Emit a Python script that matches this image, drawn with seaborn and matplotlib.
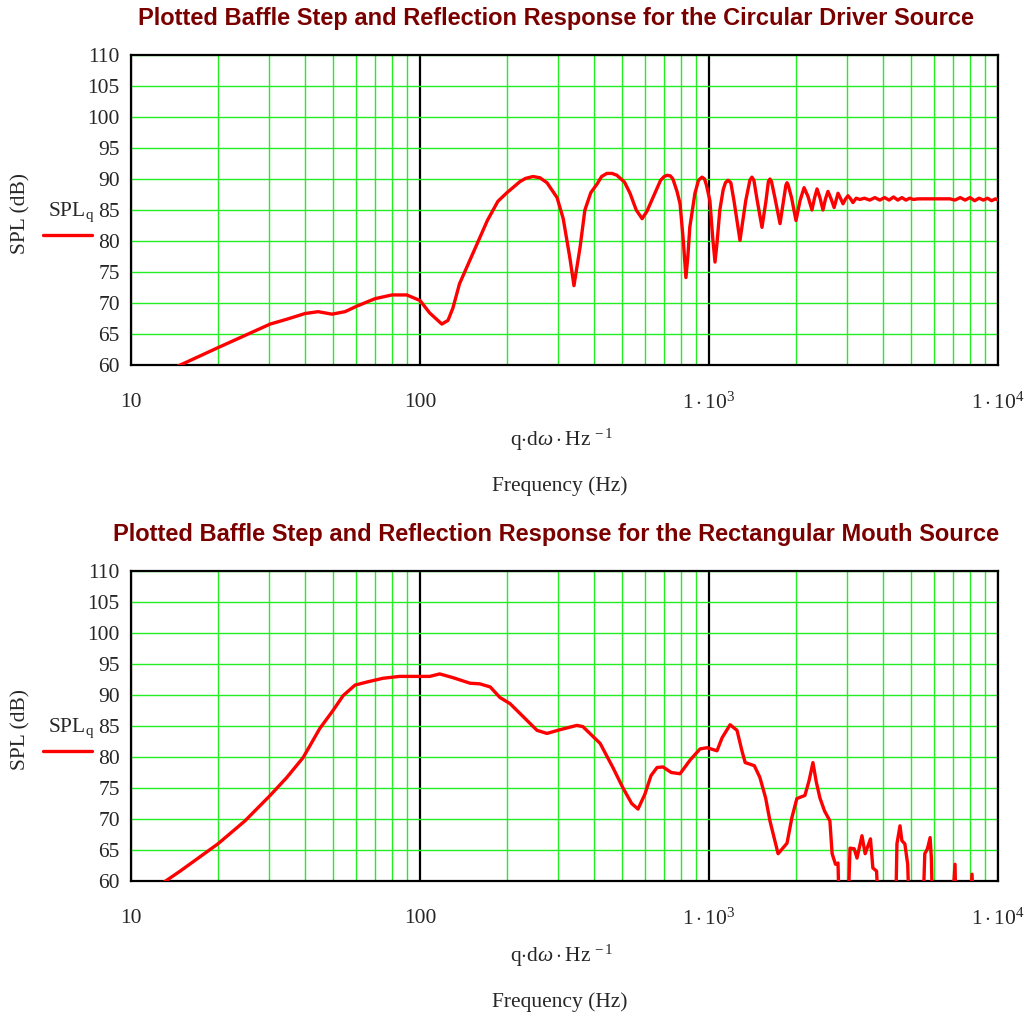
import numpy as np
import pandas as pd
import matplotlib
matplotlib.use("Agg")
import matplotlib.pyplot as plt
import seaborn as sns
from matplotlib.lines import Line2D

# Circular driver source: frequency (Hz) and SPL (dB)
freq_circ = [14.5, 20, 30.3, 34.7, 40, 44.4, 49.6, 55, 60.5, 69.9, 80, 90, 100, 108,
             119, 125, 130, 137, 145, 157, 171, 186, 200, 222, 232, 246, 260, 275, 298, 313,
             330, 341, 358, 372, 390, 410, 425, 443, 462, 480, 510, 533, 560, 587, 610, 640,
             680, 700, 716, 735, 750, 775, 794, 815, 832, 845, 858, 894, 920, 946, 965, 980,
             1007, 1030, 1049, 1065, 1090, 1120, 1140, 1164, 1190, 1220, 1280, 1340, 1385,
             1408, 1430, 1465, 1525, 1575, 1605, 1625, 1645, 1690, 1761, 1810, 1845, 1862,
             1880, 1930, 2000, 2065, 2133, 2200, 2271, 2320, 2365, 2420, 2479, 2530, 2580,
             2645, 2710, 2750, 2795, 2850, 2909, 2970, 3027, 3090, 3148, 3230, 3327, 3450,
             3600, 3750, 3900, 4050, 4200, 4350, 4500, 4650, 4800, 4950, 5100, 5284, 6000,
             6820, 7100, 7400, 7700, 8000, 8300, 8600, 8900, 9200, 9500, 9800, 10000]
spl_circ = [59.8, 62.8, 66.6, 67.4, 68.3, 68.6, 68.2, 68.6, 69.5, 70.7, 71.3, 71.3, 70.4, 68.4,
            66.6, 67.2, 69.2, 73.1, 75.7, 79.3, 83.3, 86.4, 87.8, 89.6, 90.1, 90.4, 90.2, 89.4,
            87.0, 83.6, 77.3, 72.8, 79.0, 85.0, 87.8, 89.2, 90.4, 90.9, 90.9, 90.6, 89.5, 87.7,
            85.0, 83.6, 84.8, 87.0, 89.8, 90.4, 90.6, 90.5, 90.0, 88.0, 86.0, 80.0, 74.1, 77.5,
            82.2, 87.7, 89.8, 90.3, 90.0, 89.0, 86.5, 80.5, 76.6, 79.5, 85.0, 88.3, 89.4, 89.8,
            89.4, 86.5, 80.1, 86.5, 89.8, 90.3, 89.8, 86.8, 82.2, 86.5, 89.6, 90.0, 89.6, 87.0,
            82.8, 86.5, 89.0, 89.4, 89.0, 87.0, 83.3, 86.5, 88.6, 87.2, 85.0, 87.0, 88.4, 87.0,
            85.0, 86.8, 88.0, 86.8, 85.4, 86.5, 87.7, 86.9, 86.0, 86.8, 87.3, 86.8, 86.2, 86.9,
            86.7, 86.9, 86.6, 87.0, 86.6, 87.0, 86.6, 87.1, 86.6, 87.0, 86.6, 86.9, 86.7, 86.8,
            86.8, 86.8, 86.6, 87.0, 86.6, 87.0, 86.5, 86.9, 86.6, 86.9, 86.5, 86.8, 86.6]

# Rectangular mouth source: frequency (Hz) and SPL (dB)
freq_rect = [12.9, 14.8, 20, 24.8, 30.3, 34.6, 39.4, 45, 50, 54.2, 59.6, 65.6, 74.5, 85,
             97.7, 108, 117, 130, 149, 161, 175, 189, 205, 222, 254, 275, 305, 349, 366,
             420, 465, 504, 540, 568, 600, 630, 661, 693, 740, 794, 860, 931, 985, 1066,
             1110, 1183, 1250, 1300, 1334, 1435, 1500, 1570, 1625, 1690, 1734, 1862, 1935,
             2014, 2147, 2220, 2289, 2350, 2420, 2510, 2620, 2667, 2740, 2795, 2840, 3000,
             3076, 3180, 3252, 3383, 3470, 3620, 3690, 3800, 3908, 4405, 4470, 4580, 4650,
             4760, 4870, 4966, 5458, 5580, 5700, 5823, 5880, 5970, 6823, 7100, 7190, 7950,
             8130, 8300, 10000]
spl_rect = [59.7, 61.6, 66.0, 69.7, 73.8, 76.7, 79.9, 84.6, 87.5, 89.9, 91.6, 92.1, 92.7, 93.0,
            93.0, 93.0, 93.4, 92.8, 91.9, 91.8, 91.3, 89.6, 88.6, 87.0, 84.3, 83.8, 84.4, 85.1, 84.9,
            82.2, 78.3, 75.0, 72.5, 71.6, 74.0, 77.0, 78.3, 78.4, 77.5, 77.3, 79.5, 81.3, 81.5, 81.0,
            83.1, 85.2, 84.3, 81.0, 79.1, 78.6, 76.7, 73.4, 69.7, 66.5, 64.4, 66.1, 70.2,
            73.3, 73.8, 76.2, 79.1, 76.0, 73.4, 71.3, 69.7, 64.4, 62.7, 62.9, 50.0, 50.0,
            65.3, 65.2, 63.7, 67.3, 64.4, 66.8, 62.1, 61.6, 50.0, 50.0, 66.0, 68.9, 66.5,
            66.0, 62.7, 50.0, 50.0, 64.4, 65.2, 67.0, 63.7, 50.0, 50.0, 62.7, 50.0, 50.0,
            61.1, 50.0, 50.0]

titles = ["Plotted Baffle Step and Reflection Response for the Circular Driver Source",
          "Plotted Baffle Step and Reflection Response for the Rectangular Mouth Source"]
y_ticks = list(range(60, 111, 5))
x_major = [10, 100, 1000, 10000]
x_major_labels = ["10", "100", r"$1\cdot10^{3}$", r"$1\cdot10^{4}$"]
x_minor = [m * d for d in (10, 100, 1000) for m in range(2, 10)]

sns.set_style("white")
plt.rcParams['font.family'] = ['Liberation Serif', 'DejaVu Serif']
plt.rcParams['mathtext.fontset'] = 'custom'
plt.rcParams['mathtext.rm'] = 'Liberation Serif'
plt.rcParams['mathtext.it'] = 'Liberation Serif:italic'
plt.rcParams['mathtext.bf'] = 'Liberation Serif:bold'

W, H = 1029, 1024
fig = plt.figure(figsize=(W / 100, H / 100), dpi=100)

RED = "#ff0000"
GREEN = "#22ee22"
TITLE_RED = "#7a0000"


def fx(px):
    return px / W


def fy(py):
    return 1 - py / H


def draw_panel(top_px, freq, spl, title):
    bottom_px = top_px + 310
    ax = fig.add_axes([fx(131), fy(bottom_px), fx(998) - fx(131), fy(top_px) - fy(bottom_px)])
    df = pd.DataFrame({"freq": freq, "spl": spl})
    sns.lineplot(data=df, x="freq", y="spl", ax=ax, color=RED, linewidth=2.4,
                 sort=False, estimator=None, zorder=5)
    ax.lines[-1].set_solid_joinstyle("round")
    ax.set_xscale("log")
    ax.set_xlim(10, 10000)
    ax.set_ylim(60, 110)
    ax.set_xticks(x_major)
    ax.set_xticklabels(x_major_labels)
    ax.set_xticks(x_minor, minor=True)
    ax.set_xticklabels([], minor=True)
    ax.set_yticks(y_ticks)
    ax.set_yticklabels([str(v) for v in y_ticks])
    ax.tick_params(axis="both", which="both", length=0, labelsize=15.5)
    ax.tick_params(axis="x", which="major", pad=20)
    ax.tick_params(axis="y", which="major", pad=8)
    ax.xaxis.grid(True, which="minor", color=GREEN, linewidth=1.0)
    ax.xaxis.grid(True, which="major", color="black", linewidth=1.6)
    ax.yaxis.grid(True, which="major", color=GREEN, linewidth=1.0)
    ax.set_axisbelow(True)
    for s in ax.spines.values():
        s.set_visible(True)
        s.set_color("black")
        s.set_linewidth(1.6)
    ax.set_xlabel("")
    ax.set_ylabel("")

    # titles and labels
    fig.text(fx(556), fy(top_px - 37), title, ha="center", va="center",
             fontsize=17, fontweight="bold", color=TITLE_RED,
             family=["Liberation Sans", "DejaVu Sans"])
    fig.text(fx(21), fy(top_px + 158), "SPL (dB)", rotation=90, ha="center", va="center",
             fontsize=15.5)
    fig.text(fx(48), fy(top_px + 157), r"SPL$_\mathrm{q}$", ha="left", va="center", fontsize=15.5)
    fig.add_artist(Line2D([fx(43), fx(92)], [fy(top_px + 180)] * 2, color=RED, linewidth=2.4))
    fig.text(fx(562), fy(top_px + 385), r"q$\cdot$d$\omega\cdot$Hz$^{\,-1}$", ha="center",
             va="center", fontsize=15.5)
    fig.text(fx(560), fy(top_px + 431), "Frequency (Hz)", ha="center", va="center", fontsize=15.5)
    return ax


draw_panel(55, freq_circ, spl_circ, titles[0])
draw_panel(571, freq_rect, spl_rect, titles[1])

fig.savefig("out.png", dpi=100, facecolor="white")
